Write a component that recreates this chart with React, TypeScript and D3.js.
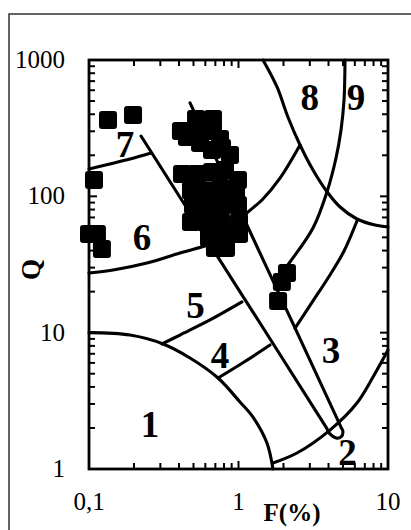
import React from 'react';
import * as d3 from 'd3';

type P = [number, number];

// Axis ticks
const xTickValues = [0.1, 1, 10];
const xTickLabels = ['0,1', '1', '10'];
const yTickValues = [1, 10, 100, 1000];
const yTickLabels = ['1', '10', '100', '1000'];

// Sample points: F (%) and Q
const sampleF = [
  0.134, 0.197, 0.108, 0.1, 0.113, 0.122, 2.11, 1.95, 1.84,
  0.52, 0.675, 0.412, 0.52, 0.675, 0.752, 0.452, 0.553, 0.665, 0.776, 0.877,
  0.419, 0.528, 0.665, 0.812, 0.992, 0.481, 0.606, 0.764, 0.962, 0.992,
  0.496, 0.625, 0.788, 0.481, 0.606, 0.764, 1.008, 1.008, 0.635, 0.8, 0.696, 0.825,
];
const sampleQ = [
  363, 395, 132, 52.9, 52.9, 41.1, 27.4, 23.5, 17.1,
  369, 369, 301, 301, 301, 263, 272, 246, 219, 226, 201,
  146, 146, 151, 156, 132, 111, 111, 115, 108, 86.4,
  86.4, 86.4, 86.4, 64.8, 64.8, 64.8, 64.8, 52.9, 49.5, 51.2, 41.8, 41.8,
];

// Field boundaries (F, Q)
const arc1: P[] = [[0.1, 10], [0.188, 9.6], [0.313, 8.26], [0.474, 6.52], [0.73, 4.65], [1.023, 3.1], [1.25, 2.4], [1.55, 1.55], [1.7, 1.0]];
const curve2: P[] = [[1.7, 1.107], [2.46, 1.31], [4.09, 1.93], [6.2, 3.05], [7.94, 4.73], [10, 7.46]];
const curve45: P[] = [[0.308, 8.26], [0.406, 9.61], [0.645, 12.39], [1.055, 16.8]];
const curve4low: P[] = [[0.73, 4.65], [1.09, 6.09], [1.625, 8.12]];
const curve56: P[] = [[0.1, 27.4], [0.145, 28.8], [0.244, 32.4], [0.406, 38.4], [0.597, 43.2], [0.655, 44.7]];
const curve7: P[] = [[0.1, 158.7], [0.138, 172.7], [0.188, 187.8], [0.26, 208]];
const wedge: P[] = [[0.2228, 277], [0.926, 23.7], [3.85, 2.03], [4.09, 1.81], [4.49, 1.69], [4.85, 1.72], [5.0, 1.87], [4.85, 2.03], [1.516, 31.4], [0.474, 484]];
const curveG: P[] = [[1.072, 69.3], [1.14, 75.5], [1.436, 94], [1.895, 136], [2.58, 238]];
const curveH: P[] = [[1.458, 1000], [1.81, 634], [2.14, 382], [2.58, 238], [3.15, 156], [3.91, 108], [4.78, 83.5], [6.2, 68.2], [8.19, 61.6], [10, 59.6]];
const curveI: P[] = [[5.157, 1000], [5.08, 509], [4.85, 307], [4.49, 191], [3.91, 108], [3.15, 58.6], [2.21, 33.0], [1.75, 23.5]];
const curveJ: P[] = [[6.2, 65.9], [5.08, 39.7], [4.09, 26.5], [3.15, 17.1], [2.39, 10.8]];
const boundaries: P[][] = [arc1, curve2, curve45, curve4low, curve56, curve7, wedge, curveG, curveH, curveI, curveJ];

// Field labels
const regionLabels = ['1', '2', '3', '4', '5', '6', '7', '8', '9'];
const regionLabelF = [0.256, 5.36, 4.16, 0.752, 0.516, 0.226, 0.174, 3.0, 6.1];
const regionLabelQ = [1.72, 1.07, 6.0, 5.5, 12.8, 40.4, 194, 430, 430];

const FONT = "'Liberation Serif', 'Times New Roman', serif";

export default function App() {
  const W = 411, H = 530;
  const left = 89, right = 388, top = 60, bottom = 469;
  const x = d3.scaleLog().domain([0.1, 10]).range([left, right]);
  const y = d3.scaleLog().domain([1, 1000]).range([bottom, top]);
  const line = d3.line<P>().x(d => x(d[0])).y(d => y(d[1])).curve(d3.curveCatmullRom.alpha(0.5));
  const isMajor = (t: number) => Math.abs(Math.log10(t) - Math.round(Math.log10(t))) < 1e-6;
  const xTicks = x.ticks();
  const yTicks = y.ticks();
  const tl = (t: number) => (isMajor(t) ? 8 : 6);
  const sq = 18;

  return (
    <svg width={W} height={H} style={{ position: 'absolute', left: 0, top: 0, background: '#fff' }} fontFamily={FONT}>
      <rect x={9} y={14} width={500} height={600} fill="none" stroke="#333" strokeWidth={1.5} />
      {boundaries.map((b, i) => (
        <path key={'b' + i} d={line(b) || ''} fill="none" stroke="#000" strokeWidth={3.1} strokeLinecap="round" strokeLinejoin="round" />
      ))}
      {xTicks.map((t, i) => (
        <g key={'xt' + i}>
          <line x1={x(t)} x2={x(t)} y1={bottom} y2={bottom - tl(t)} stroke="#000" strokeWidth={2} />
          <line x1={x(t)} x2={x(t)} y1={top} y2={top + tl(t)} stroke="#000" strokeWidth={2} />
        </g>
      ))}
      {yTicks.map((t, i) => (
        <g key={'yt' + i}>
          <line x1={left} x2={left + tl(t)} y1={y(t)} y2={y(t)} stroke="#000" strokeWidth={2} />
          <line x1={right} x2={right - tl(t)} y1={y(t)} y2={y(t)} stroke="#000" strokeWidth={2} />
        </g>
      ))}
      <rect x={left} y={top} width={right - left} height={bottom - top} fill="none" stroke="#000" strokeWidth={2.8} />
      {sampleF.map((f, i) => (
        <rect key={'s' + i} x={x(f) - sq / 2} y={y(sampleQ[i]) - sq / 2} width={sq} height={sq} rx={3} fill="#000" />
      ))}
      {xTickValues.map((t, i) => (
        <text key={'xl' + i} x={x(t)} y={510} textAnchor="middle" fontSize={25}>{xTickLabels[i]}</text>
      ))}
      {yTickValues.map((t, i) => (
        <text key={'yl' + i} x={65} y={y(t) + 8} textAnchor="end" fontSize={25}>{yTickLabels[i]}</text>
      ))}
      <text x={292} y={521} textAnchor="middle" fontSize={25} fontWeight="bold">F(%)</text>
      <text transform={`translate(40,${(top + bottom) / 2 + 5}) rotate(-90)`} textAnchor="middle" fontSize={27} fontWeight="bold">Q</text>
      {regionLabels.map((l, i) => (
        <text key={'r' + i} x={x(regionLabelF[i])} y={y(regionLabelQ[i])} textAnchor="middle" fontSize={37} fontWeight="bold">{l}</text>
      ))}
    </svg>
  );
}
